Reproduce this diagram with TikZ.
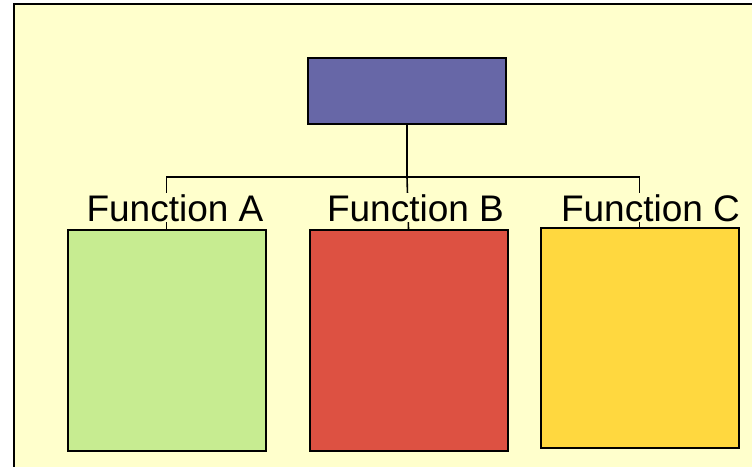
\documentclass[tikz,border=0pt]{standalone}
\usepackage{fontspec}
\setmainfont{Liberation Sans}
\definecolor{paper}{HTML}{FFFFCC}
\definecolor{headblue}{HTML}{6767A7}
\definecolor{fgreen}{HTML}{C7EC91}
\definecolor{fred}{HTML}{DD5142}
\definecolor{fyellow}{HTML}{FFD83F}
\begin{document}
\begin{tikzpicture}[x=1pt,y=-1pt,
  orgbox/.style={draw=black,line width=2pt,minimum width=198pt,inner sep=0pt},
  link/.style={draw=black,line width=1.6pt},
  caption/.style={fill=paper,inner sep=1pt,font=\fontsize{37}{40}\selectfont,text height=27pt,text depth=0pt}]
  % page and framed background
  \useasboundingbox (0,0) rectangle (752,466);
  \clip (0,0) rectangle (752,466);
  \fill[white] (0,0) rectangle (752,466);
  \draw[fill=paper,line width=2pt] (14,4) rectangle (770,480);

  % head box and the three function boxes
  \node[orgbox,fill=headblue,minimum height=66pt] (head) at (407,91) {};
  \node[orgbox,fill=fgreen,minimum height=221pt] (fa) at (166.5,340.5) {};
  \node[orgbox,fill=fred,minimum height=221pt] (fb) at (408.5,340.5) {};
  \node[orgbox,fill=fyellow,minimum height=220pt] (fc) at (639.5,338) {};

  % tree connectors
  \coordinate (junction) at (407,177);
  \draw[link] (head.south) -- (junction);
  \draw[link] (junction) -| (fa.north);
  \draw[link] (junction) -| (fc.north);
  \draw[link] (junction) -- (fb.north);

  % labels sit over the connectors
  \node[caption,anchor=base] (la) at (175,221) {Function A};
  \node[caption,anchor=base] (lb) at (415.5,221) {Function B};
  \node[caption,anchor=base] (lc) at (650.5,221) {Function C};
\end{tikzpicture}
\end{document}
